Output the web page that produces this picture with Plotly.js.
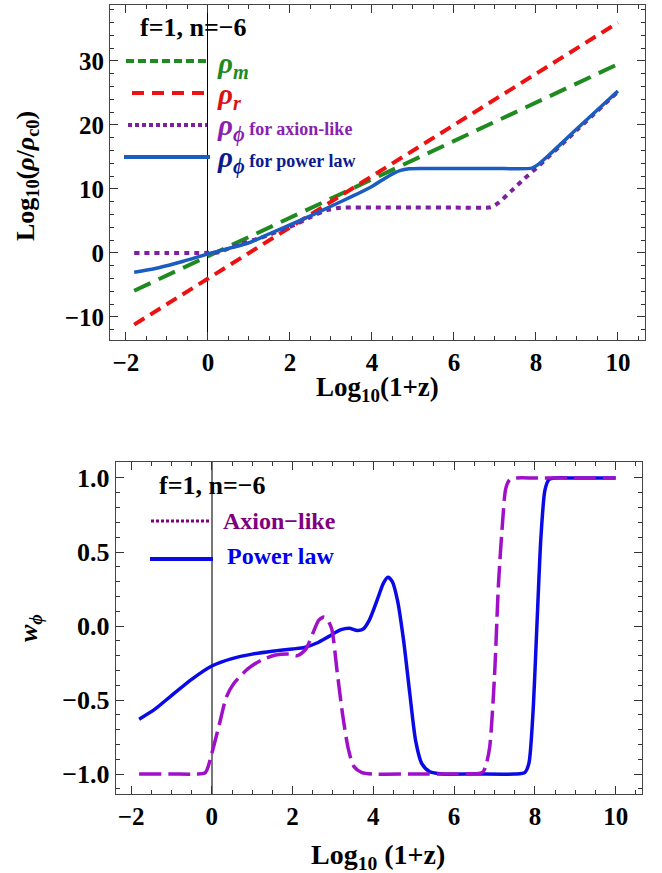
<!DOCTYPE html>
<html>
<head>
<meta charset="utf-8">
<script src="https://cdn.plot.ly/plotly-3.0.1.min.js"></script>
<style>html,body{margin:0;padding:0;background:#fff;}#chart{width:662px;height:873px;}</style>
</head>
<body>
<div id="chart"></div>
<script>
// ---------- Top panel: log10(rho/rho_c0) vs log10(1+z) ----------
const xMatter = [-1.8, 10];
const rhoMatter = [-5.9, 29.5];
const xRad = [-1.8, 10];
const rhoRad = [-11.2, 36];
const xAxionRho = [-1.8, -1, -0.3, 0, 0.27, 0.5, 0.8, 1.3, 1.8, 2.15, 2.5, 2.9, 3.15, 3.35, 4, 5, 6, 6.9, 7.1, 7.4, 7.7, 8.0, 9, 10];
const rhoAxion  = [0, 0, 0, 0.02, 0.1, 0.7, 1.4, 2.4, 3.6, 4.5, 5.6, 6.7, 7.0, 7.1, 7.1, 7.1, 7.1, 7.15, 7.9, 9.7, 11.5, 13.2, 19.2, 25.2];
const xPowerRho = [-1.8, -1.2, -0.6, 0, 0.5, 1, 1.5, 2, 2.5, 3, 3.5, 4, 4.4, 4.7, 4.9, 5.2, 6, 7, 7.9, 8.05, 8.3, 9, 10];
const rhoPower  = [-3.0, -2.3, -1.3, -0.15, 0.7, 1.6, 3.0, 4.4, 5.8, 7.3, 8.8, 10.4, 12.0, 12.9, 13.15, 13.2, 13.2, 13.2, 13.25, 13.8, 15.2, 19.4, 25.3];

// ---------- Bottom panel: w_phi vs log10(1+z) ----------
const xAxionW = [-1.8, -1.0, -0.4, -0.16, 0, 0.19, 0.36, 0.54, 0.89, 1.23, 1.58, 1.93, 2.12, 2.32, 2.5, 2.65, 2.78, 2.87, 2.97, 3.1, 3.24, 3.38, 3.52, 3.72, 4.0, 5, 6, 6.7, 6.78, 6.88, 7.0, 7.1, 7.2, 7.28, 7.38, 7.55, 8, 9, 10];
const wAxion  = [-1, -1, -1, -0.99, -0.86, -0.66, -0.48, -0.39, -0.29, -0.23, -0.196, -0.19, -0.2, -0.16, -0.05, 0.04, 0.06, 0.04, -0.02, -0.3, -0.6, -0.83, -0.95, -0.99, -1, -1, -1, -0.99, -0.95, -0.82, -0.34, 0.29, 0.7, 0.93, 0.99, 1, 1, 1, 1];
const xPowerW = [-1.8, -1.4, -1.0, -0.5, 0, 0.5, 1.0, 1.5, 2.0, 2.3, 2.6, 2.9, 3.2, 3.4, 3.6, 3.75, 3.9, 4.1, 4.25, 4.36, 4.47, 4.6, 4.75, 4.9, 5.05, 5.2, 5.4, 5.7, 6.5, 7.5, 7.75, 7.85, 7.95, 8.05, 8.15, 8.25, 8.35, 8.5, 9, 10];
const wPower  = [-0.63, -0.56, -0.47, -0.36, -0.27, -0.22, -0.19, -0.17, -0.155, -0.145, -0.115, -0.07, -0.025, -0.015, -0.03, -0.02, 0.04, 0.18, 0.29, 0.33, 0.3, 0.17, -0.1, -0.45, -0.78, -0.93, -0.985, -1.0, -1.0, -1.0, -0.99, -0.93, -0.6, 0.0, 0.6, 0.92, 0.99, 1.0, 1.0, 1.0];

const legendBottom = ["Axion−like", "Power law"];
const panelLabel = "f=1, n=−6";

const W = 662, H = 873;
const px = (x) => x / W;
const py = (y) => 1 - y / H;
const serif = "Liberation Serif, Times New Roman, serif";

const cM = "#1f8a1f", cR = "#ee1111", cAx = "#7e1fa3", cPl = "#1a5cbf";
const cAx2 = "#a010c8", cPl2 = "#0a0ae6";

const traces = [
  {x: xMatter, y: rhoMatter, xaxis: "x", yaxis: "y", mode: "lines", line: {color: cM, width: 4, dash: "18px,9px"}},
  {x: xRad, y: rhoRad, xaxis: "x", yaxis: "y", mode: "lines", line: {color: cR, width: 4, dash: "12px,7px"}},
  {x: xAxionRho, y: rhoAxion, xaxis: "x", yaxis: "y", mode: "lines", line: {color: cAx, width: 4, dash: "5px,5px", shape: "spline", smoothing: 0.6}},
  {x: xPowerRho, y: rhoPower, xaxis: "x", yaxis: "y", mode: "lines", line: {color: cPl, width: 3.5, shape: "spline", smoothing: 0.6}},
  {x: xPowerW, y: wPower, xaxis: "x2", yaxis: "y2", mode: "lines", line: {color: cPl2, width: 3.5, shape: "spline", smoothing: 0.7}},
  {x: xAxionW, y: wAxion, xaxis: "x2", yaxis: "y2", mode: "lines", line: {color: cAx2, width: 3.5, dash: "22px,7px", shape: "spline", smoothing: 0.7}}
];

function tf(size) { return {family: serif, size: size, color: "#000", weight: "bold"}; }
function xa(domain, anchor, range, fs) {
  return {domain: domain, anchor: anchor, range: range, tick0: 0, dtick: 2,
    ticks: "inside", ticklen: 8, tickwidth: 1, tickcolor: "#333",
    minor: {ticks: "inside", dtick: 0.5, ticklen: 4, tickwidth: 1, tickcolor: "#333"},
    showline: true, linecolor: "#444", linewidth: 1, mirror: "allticks",
    showgrid: false, zeroline: true, zerolinecolor: "#000", zerolinewidth: 1,
    tickfont: tf(fs), fixedrange: true};
}
function ya(domain, anchor, range, dtick, minorDtick, fmt, fs) {
  return {domain: domain, anchor: anchor, range: range, tick0: 0, dtick: dtick, tickformat: fmt,
    ticks: "inside", ticklen: 8, tickwidth: 1, tickcolor: "#333",
    minor: {ticks: "inside", dtick: minorDtick, ticklen: 4, tickwidth: 1, tickcolor: "#333"},
    showline: true, linecolor: "#444", linewidth: 1, mirror: "allticks",
    showgrid: false, zeroline: false, tickfont: tf(fs), fixedrange: true};
}

const xa2 = xa([115.7 / W, 642.3 / W], "y2", [-2.38, 10.66], 25);
xa2.zerolinecolor = "#777"; xa2.zerolinewidth = 1.5;

const legendLines = [
  {x0: 126, x1: 207, y: 61, color: cM, dash: "8px,4px", width: 4},
  {x0: 132, x1: 207, y: 93, color: cR, dash: "12px,8px", width: 4},
  {x0: 128, x1: 207, y: 125, color: cAx, dash: "4px,3px", width: 4},
  {x0: 124, x1: 210, y: 157, color: cPl, dash: "solid", width: 4},
  {x0: 151, x1: 211, y: 521, color: "#800080", dash: "3px,2px", width: 3},
  {x0: 150, x1: 213, y: 559, color: cPl2, dash: "solid", width: 4}
];
const shapes = legendLines.map(l => ({type: "line", xref: "paper", yref: "paper",
  x0: px(l.x0), x1: px(l.x1), y0: py(l.y), y1: py(l.y), line: {color: l.color, width: l.width, dash: l.dash}}));

function ann(text, x, y, size, color, opts) {
  return Object.assign({text: text, xref: "paper", yref: "paper", x: px(x), y: py(y),
    xanchor: "left", yanchor: "middle", showarrow: false,
    font: {family: serif, size: size, color: color, weight: "bold"}}, opts || {});
}
const greek = (g, s) => "<i>" + g + "</i><sub><i>" + s + "</i></sub>";
const annotations = [
  ann("<b>" + panelLabel + "</b>", 138, 27, 26, "#000"),
  ann("<b>" + greek("ρ", "m") + "</b>", 215, 65, 29, "#1f8a1f"),
  ann("<b>" + greek("ρ", "r") + "</b>", 215, 96, 29, "#dd1111"),
  ann("<b>" + greek("ρ", "ϕ") + "</b><b><span style='font-size:18px'> for axion-like</span></b>", 215, 127, 29, "#8a1fb0"),
  ann("<b>" + greek("ρ", "ϕ") + "</b><b><span style='font-size:18px'> for power law</span></b>", 215, 159, 29, "#0c1a90"),
  ann("<b>" + panelLabel + "</b>", 157, 485, 26, "#000"),
  ann("<b>" + legendBottom[0] + "</b>", 221, 521, 24, "#800080"),
  ann("<b>" + legendBottom[1] + "</b>", 225, 556, 24, "#0000ee"),
  ann("<b>Log<sub>10</sub>(1+z)</b>", 377, 389, 27, "#000", {xanchor: "center"}),
  ann("<b>Log<sub>10</sub> (1+z)</b>", 378, 856, 28, "#000", {xanchor: "center"}),
  ann("<b>Log<sub>10</sub>(<i>ρ</i>/<i>ρ</i><sub>c0</sub>)</b>", 27, 176, 26, "#000", {xanchor: "center", textangle: -90}),
  ann("<b><i>w</i><sub><i>ϕ</i></sub></b>", 30, 628, 26, "#000", {xanchor: "center", textangle: -90})
];

const layout = {
  width: W, height: H, margin: {l: 0, r: 0, t: 0, b: 0},
  paper_bgcolor: "#fff", plot_bgcolor: "#fff", showlegend: false,
  xaxis: xa([110 / W, 645 / W], "y", [-2.39, 10.66], 25),
  yaxis: ya([(H - 340) / H, (H - 5) / H], "x", [-13.6, 38.75], 10, 2, "d", 25),
  xaxis2: xa2,
  yaxis2: ya([(H - 794) / H, (H - 462.3) / H], "x2", [-1.135, 1.106], 0.5, 0.1, ".1f", 26),
  shapes: shapes, annotations: annotations
};

Plotly.newPlot("chart", traces, layout, {displayModeBar: false, staticPlot: true});
</script>
</body>
</html>
